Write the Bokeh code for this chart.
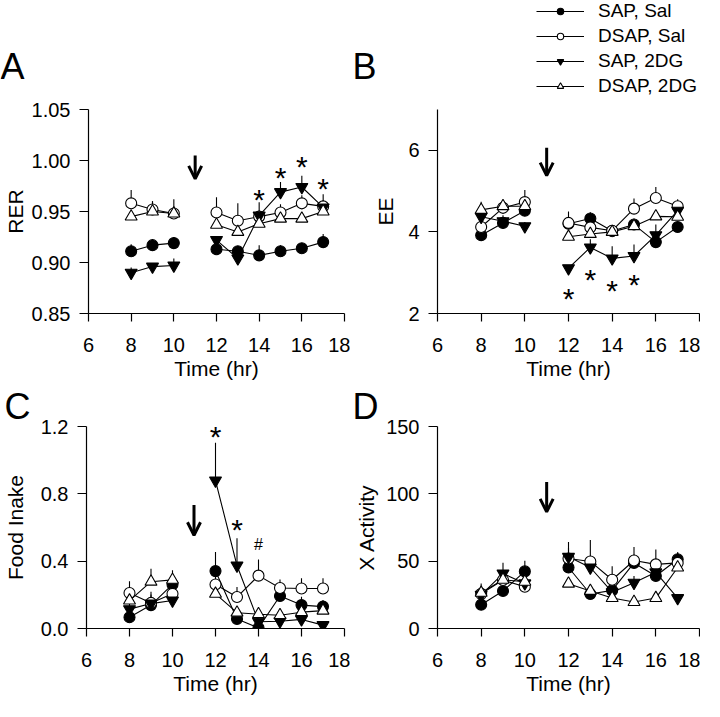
from bokeh.plotting import figure
from bokeh.layouts import column, row
from bokeh.models import (ColumnDataSource, Arrow, OpenHead, Label, Legend, LegendItem,
                          FixedTicker, Range1d, PrintfTickFormatter)
from bokeh.core.properties import value
from bokeh.embed import file_html
from bokeh.resources import INLINE

FONT = "Liberation Sans"

# ---------------- data ----------------
hours = [8, 9, 10, 12, 13, 14, 15, 16, 17]
series_names = ["SAP, Sal", "DSAP, Sal", "SAP, 2DG", "DSAP, 2DG"]
x_ticks = [6, 8, 10, 12, 14, 16, 18]

# Panel A: RER
rer_sap_sal = [0.911, 0.917, 0.919, 0.913, 0.911, 0.907, 0.911, 0.914, 0.920]
rer_sap_sal_err = [0.007, 0.006, 0.006, 0.006, 0.005, 0.010, 0.006, 0.005, 0.008]
rer_dsap_sal = [0.958, 0.952, 0.948, 0.949, 0.941, 0.945, 0.949, 0.958, 0.955]
rer_dsap_sal_err = [0.013, 0.008, 0.014, 0.015, 0.017, 0.006, 0.008, 0.008, 0.006]
rer_sap_2dg = [0.890, 0.896, 0.897, 0.922, 0.904, 0.946, 0.969, 0.974, 0.954]
rer_sap_2dg_err = [0.005, 0.003, 0.007, 0.004, 0.005, 0.013, 0.010, 0.011, 0.013]
rer_dsap_2dg = [0.945, 0.950, 0.948, 0.937, 0.930, 0.938, 0.943, 0.943, 0.950]
rer_dsap_2dg_err = [0.003, 0.010, 0.004, 0.006, 0.006, 0.004, 0.004, 0.004, 0.003]
rer_star_x = [14, 15, 16, 17]
rer_star_y = [0.970, 0.991, 1.002, 0.980]
rer_arrow = [1.005, 0.982]

# Panel B: EE
ee_sap_sal = [3.92, 4.22, 4.52, 4.20, 4.33, 4.02, 4.18, 3.75, 4.12]
ee_sap_sal_err = [0.10, 0.10, 0.10, 0.10, 0.15, 0.08, 0.15, 0.12, 0.10]
ee_dsap_sal = [4.12, 4.59, 4.73, 4.22, 4.11, 4.03, 4.57, 4.83, 4.63]
ee_dsap_sal_err = [0.12, 0.12, 0.30, 0.28, 0.12, 0.08, 0.25, 0.27, 0.17]
ee_sap_2dg = [4.37, 4.26, 4.14, 3.11, 3.62, 3.35, 3.41, 3.92, 4.52]
ee_sap_2dg_err = [0.08, 0.15, 0.10, 0.08, 0.20, 0.30, 0.28, 0.26, 0.10]
ee_dsap_2dg = [4.54, 4.63, 4.63, 3.88, 3.95, 4.00, 4.14, 4.38, 4.37]
ee_dsap_2dg_err = [0.20, 0.15, 0.10, 0.08, 0.08, 0.08, 0.08, 0.08, 0.08]
ee_star_x = [12, 13, 14, 15]
ee_star_y = [2.56, 3.04, 2.77, 2.90]
ee_arrow = [6.06, 5.38]

# Panel C: Food intake
fi_sap_sal = [0.067, 0.139, 0.262, 0.341, 0.057, 0.004, 0.193, 0.139, 0.130]
fi_sap_sal_err = [0.03, 0.08, 0.04, 0.114, 0.03, 0.01, 0.05, 0.05, 0.04]
fi_dsap_sal = [0.211, 0.152, 0.206, 0.261, 0.187, 0.314, 0.241, 0.238, 0.238]
fi_dsap_sal_err = [0.07, 0.05, 0.04, 0.06, 0.06, 0.096, 0.05, 0.06, 0.06]
fi_sap_2dg = [0.115, 0.148, 0.166, 0.879, 0.374, 0.040, 0.043, 0.054, 0.020]
fi_sap_2dg_err = [0.03, 0.03, 0.03, 0.225, 0.162, 0.02, 0.02, 0.02, 0.01]
fi_dsap_2dg = [0.166, 0.278, 0.289, 0.206, 0.094, 0.085, 0.079, 0.097, 0.106]
fi_dsap_2dg_err = [0.03, 0.077, 0.057, 0.04, 0.03, 0.03, 0.02, 0.02, 0.02]
fi_star_x = [12, 13]
fi_star_y = [1.19, 0.635]
fi_hash_x = [14]
fi_hash_y = [0.50]
fi_arrow = [0.734, 0.554]

# Panel D: X activity
xa_sap_sal = [17.7, 27.9, 42.4, 45.3, 25.6, 28.3, 48.7, 39.0, 51.4]
xa_sap_sal_err = [3, 5, 8, 8, 4, 5, 6, 8, 5]
xa_dsap_sal = [25.7, 36.0, 31.0, 52.0, 49.8, 36.2, 50.5, 47.6, 48.7]
xa_dsap_sal_err = [5, 5, 5, 8, 16, 10, 10, 11, 8]
xa_sap_2dg = [25.0, 40.8, 33.5, 53.2, 45.3, 27.0, 34.0, 41.7, 22.6]
xa_sap_2dg_err = [5, 8, 5, 11, 6, 5, 5, 5, 3]
xa_dsap_2dg = [26.5, 36.2, 34.7, 33.3, 27.9, 22.6, 19.7, 22.6, 45.3]
xa_dsap_2dg_err = [7, 5, 5, 5, 4, 3, 3, 3, 3]
xa_arrow = [108.8, 86.6]

arrow_x = 11

STYLES = [
    dict(marker="circle", fill="black", size=11),
    dict(marker="circle", fill="white", size=11),
    dict(marker="inverted_triangle", fill="black", size=12),
    dict(marker="triangle", fill="white", size=12),
]

LW, RW = 350, 350          # column widths
TOP_BAND = 97
FRAME_H = 204
BOTTOM = 70
TOP_BORDER_UPPER = 12
TOP_BORDER_LOWER = 41
TOP_PANEL_H = TOP_BORDER_UPPER + FRAME_H + BOTTOM
BOT_PANEL_H = TOP_BORDER_LOWER + FRAME_H + BOTTOM


def band(width, height):
    f = figure(width=width, height=height, title=None, output_backend="svg", toolbar_location=None,
               min_border=0, x_axis_location=None, y_axis_location=None,
               x_range=Range1d(0, 1), y_range=Range1d(0, 1))
    f.outline_line_color = None
    f.xgrid.visible = False
    f.ygrid.visible = False
    return f


def letter(f, text, x, y):
    f.add_layout(Label(x=x, y=y, x_units="screen", y_units="screen", text=text,
                       text_font=FONT, text_font_size="36px", text_baseline="top",
                       text_color="black"))


def make_panel(ylabel, yr, yticks, yfmt, series, errs, arrow, stars,
               width, height, bl, br, bt, bb, ylab_standoff, hashes=None, title=None):
    p = figure(width=width, height=height, title=title, x_range=Range1d(6, 18), y_range=Range1d(*yr),
               output_backend="svg", toolbar_location=None,
               min_border_left=bl, min_border_right=br, min_border_top=bt, min_border_bottom=bb)
    if title:
        p.title.align = "left"
        p.title.offset = -(bl - 2)
        p.title.standoff = 0
        p.title.text_font = FONT
        p.title.text_font_size = "36px"
        p.title.text_font_style = "normal"
        p.title.text_color = "black"
    p.outline_line_color = None
    p.xgrid.visible = False
    p.ygrid.visible = False

    for ax in (p.xaxis[0], p.yaxis[0]):
        ax.axis_line_color = "black"
        ax.axis_line_width = 1.2
        ax.major_tick_line_color = "black"
        ax.major_tick_line_width = 1.2
        ax.major_tick_in = 0
        ax.minor_tick_in = 0
        ax.minor_tick_out = 0
        ax.major_label_text_font = FONT
        ax.major_label_text_font_size = "20px"
        ax.major_label_text_color = "black"
        ax.axis_label_text_font = FONT
        ax.axis_label_text_font_size = "21px"
        ax.axis_label_text_font_style = "normal"
        ax.axis_label_text_color = "black"

    p.xaxis.ticker = FixedTicker(ticks=x_ticks)
    p.xaxis.major_tick_out = 8
    p.xaxis.major_label_standoff = 16
    p.xaxis.axis_label = "Time (hr)"
    p.xaxis.axis_label_standoff = 2

    p.yaxis.ticker = FixedTicker(ticks=yticks)
    if yfmt:
        p.yaxis.formatter = PrintfTickFormatter(format=yfmt)
    p.yaxis.major_tick_out = 9
    p.yaxis.major_label_standoff = 9
    p.yaxis.axis_label = ylabel
    p.yaxis.axis_label_standoff = ylab_standoff

    for vals, err in zip(series, errs):
        tops = [v + e for v, e in zip(vals, err)]
        p.segment(x0=hours, y0=vals, x1=hours, y1=tops, line_color="black", line_width=1.1)
        p.line(hours[:3], vals[:3], line_color="black", line_width=1.1)
        p.line(hours[3:], vals[3:], line_color="black", line_width=1.1)
    for vals, st in zip(series, STYLES):
        p.scatter(hours, vals, marker=st["marker"], size=st["size"], fill_color=st["fill"],
                  line_color="black", line_width=1.1)

    p.add_layout(Arrow(end=OpenHead(size=13, line_width=3, line_color="black"),
                       x_start=arrow_x, y_start=arrow[0], x_end=arrow_x, y_end=arrow[1],
                       line_width=3, line_color="black"))

    if stars:
        sx, sy = stars
        p.text(x=sx, y=sy, text=["*"] * len(sx), text_font=value(FONT), text_font_size="30px",
               text_align="center", text_baseline="middle", y_offset=8, text_color="black")
    if hashes:
        hx, hy = hashes
        p.text(x=hx, y=hy, text=["#"] * len(hx), text_font=value(FONT), text_font_size="16px",
               text_align="center", text_baseline="middle", text_color="black")
    return p


pA = make_panel("RER", (0.85, 1.05), [0.85, 0.90, 0.95, 1.00, 1.05], "%.2f",
                [rer_sap_sal, rer_dsap_sal, rer_sap_2dg, rer_dsap_2dg],
                [rer_sap_sal_err, rer_dsap_sal_err, rer_sap_2dg_err, rer_dsap_2dg_err],
                rer_arrow, (rer_star_x, rer_star_y),
                LW, TOP_PANEL_H, 84, 6, TOP_BORDER_UPPER, BOTTOM, 2)

pB = make_panel("EE", (2, 7), [2, 4, 6], None,
                [ee_sap_sal, ee_dsap_sal, ee_sap_2dg, ee_dsap_2dg],
                [ee_sap_sal_err, ee_dsap_sal_err, ee_sap_2dg_err, ee_dsap_2dg_err],
                ee_arrow, (ee_star_x, ee_star_y),
                RW, TOP_PANEL_H, 87, 1, TOP_BORDER_UPPER, BOTTOM, 8)

pC = make_panel("Food Inake", (0, 1.2), [0.0, 0.4, 0.8, 1.2], "%.1f",
                [fi_sap_sal, fi_dsap_sal, fi_sap_2dg, fi_dsap_2dg],
                [fi_sap_sal_err, fi_dsap_sal_err, fi_sap_2dg_err, fi_dsap_2dg_err],
                fi_arrow, (fi_star_x, fi_star_y),
                LW, BOT_PANEL_H, 84, 6, TOP_BORDER_LOWER, BOTTOM, 11,
                hashes=(fi_hash_x, fi_hash_y), title="C")

pD = make_panel("X Activity", (0, 150), [0, 50, 100, 150], None,
                [xa_sap_sal, xa_dsap_sal, xa_sap_2dg, xa_dsap_2dg],
                [xa_sap_sal_err, xa_dsap_sal_err, xa_sap_2dg_err, xa_dsap_2dg_err],
                xa_arrow, None,
                RW, BOT_PANEL_H, 87, 1, TOP_BORDER_LOWER, BOTTOM, 5, title="D")

# full-width band holding letters A, B and the legend
top_band = band(LW + RW, TOP_BAND)
letter(top_band, "A", 0, 52)
letter(top_band, "B", LW + 2, 52)

# legend samples (a single undefined point each, so nothing is drawn in the band itself)
sample = ColumnDataSource(dict(x=[float("nan")], y=[float("nan")]))
items = []
for name, st in zip(series_names, STYLES):
    lr = top_band.line("x", "y", source=sample, line_color="black", line_width=1.1)
    sr = top_band.scatter("x", "y", source=sample, marker=st["marker"], size=8,
                          fill_color=st["fill"], line_color="black", line_width=1.1)
    items.append(LegendItem(label=name, renderers=[lr, sr]))
legend = Legend(items=items, location=(536, 0), glyph_width=48, glyph_height=16,
                label_height=22, label_standoff=14, spacing=3, padding=0, margin=0,
                border_line_color=None, background_fill_alpha=0,
                label_text_font=FONT, label_text_font_size="19px", label_text_color="black")
top_band.add_layout(legend)

layout = column(top_band, row(pA, pB), row(pC, pD))

open("out.html", "w").write(file_html(layout, INLINE))
